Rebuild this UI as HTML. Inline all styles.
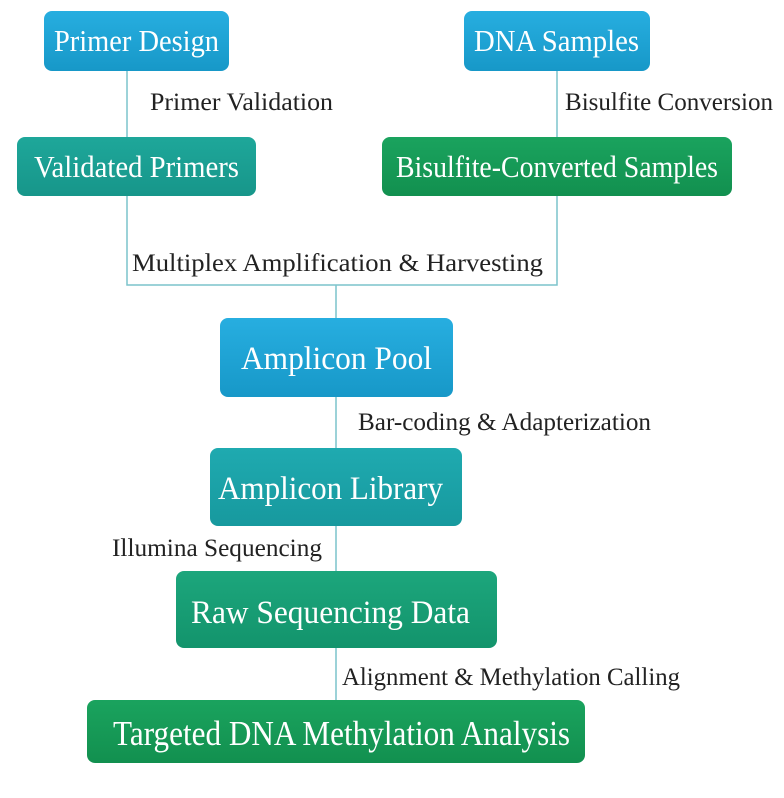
<!DOCTYPE html>
<html><head><meta charset="utf-8"><style>
html,body{margin:0;padding:0;background:#fff;}
svg{display:block;}
.b{font-family:"Liberation Serif",serif;fill:#fff;}
.l{font-family:"Liberation Serif",serif;fill:#222;font-size:25px;}
</style></head><body>
<svg width="784" height="798" viewBox="0 0 784 798" xmlns="http://www.w3.org/2000/svg">
<defs>
<linearGradient id="bl" x1="0" y1="0" x2="0" y2="1"><stop offset="0" stop-color="#27aee0"/><stop offset="1" stop-color="#1798c8"/></linearGradient>
<linearGradient id="tl" x1="0" y1="0" x2="0" y2="1"><stop offset="0" stop-color="#1ea79a"/><stop offset="1" stop-color="#17968a"/></linearGradient>
<linearGradient id="gr" x1="0" y1="0" x2="0" y2="1"><stop offset="0" stop-color="#1aa35e"/><stop offset="1" stop-color="#12904f"/></linearGradient>
<linearGradient id="aq" x1="0" y1="0" x2="0" y2="1"><stop offset="0" stop-color="#1faab0"/><stop offset="1" stop-color="#17999e"/></linearGradient>
<linearGradient id="rw" x1="0" y1="0" x2="0" y2="1"><stop offset="0" stop-color="#1ca67c"/><stop offset="1" stop-color="#13946c"/></linearGradient>
</defs>
<g stroke="#7cc4cc" stroke-width="1.5" fill="none">
<line x1="127" y1="71" x2="127" y2="137"/>
<line x1="557" y1="71" x2="557" y2="137"/>
<polyline points="127,196 127,285 557,285 557,196"/>
<line x1="336" y1="285" x2="336" y2="700"/>
</g>
<rect x="44" y="11" width="185" height="60" rx="8" fill="url(#bl)"/>
<rect x="464" y="11" width="186" height="60" rx="8" fill="url(#bl)"/>
<rect x="17" y="137" width="239" height="59" rx="8" fill="url(#tl)"/>
<rect x="382" y="137" width="350" height="59" rx="8" fill="url(#gr)"/>
<rect x="220" y="318" width="233" height="79" rx="8" fill="url(#bl)"/>
<rect x="210" y="448" width="252" height="78" rx="8" fill="url(#aq)"/>
<rect x="176" y="571" width="321" height="77" rx="8" fill="url(#rw)"/>
<rect x="87" y="700" width="498" height="63" rx="8" fill="url(#gr)"/>
<text class="b" x="54" y="51" font-size="31" textLength="165" lengthAdjust="spacingAndGlyphs">Primer Design</text>
<text class="b" x="474" y="51" font-size="31" textLength="165" lengthAdjust="spacingAndGlyphs">DNA Samples</text>
<text class="b" x="34" y="177" font-size="31" textLength="205" lengthAdjust="spacingAndGlyphs">Validated Primers</text>
<text class="b" x="396" y="177" font-size="31" textLength="322" lengthAdjust="spacingAndGlyphs">Bisulfite-Converted Samples</text>
<text class="b" x="241" y="369" font-size="33" textLength="191" lengthAdjust="spacingAndGlyphs">Amplicon Pool</text>
<text class="b" x="218" y="499" font-size="33" textLength="225" lengthAdjust="spacingAndGlyphs">Amplicon Library</text>
<text class="b" x="191" y="623" font-size="33" textLength="279" lengthAdjust="spacingAndGlyphs">Raw  Sequencing Data</text>
<text class="b" x="113" y="745" font-size="35" textLength="457" lengthAdjust="spacingAndGlyphs">Targeted DNA Methylation Analysis</text>
<text class="l" x="150" y="110" textLength="183" lengthAdjust="spacingAndGlyphs">Primer Validation</text>
<text class="l" x="565" y="110" textLength="208" lengthAdjust="spacingAndGlyphs">Bisulfite Conversion</text>
<text class="l" x="132" y="271" textLength="411" lengthAdjust="spacingAndGlyphs">Multiplex Amplification &amp; Harvesting</text>
<text class="l" x="358" y="430" textLength="293" lengthAdjust="spacingAndGlyphs">Bar-coding &amp; Adapterization</text>
<text class="l" x="112" y="556" textLength="210" lengthAdjust="spacingAndGlyphs">Illumina Sequencing</text>
<text class="l" x="342" y="685" textLength="338" lengthAdjust="spacingAndGlyphs">Alignment &amp; Methylation Calling</text>
</svg>
</body></html>
